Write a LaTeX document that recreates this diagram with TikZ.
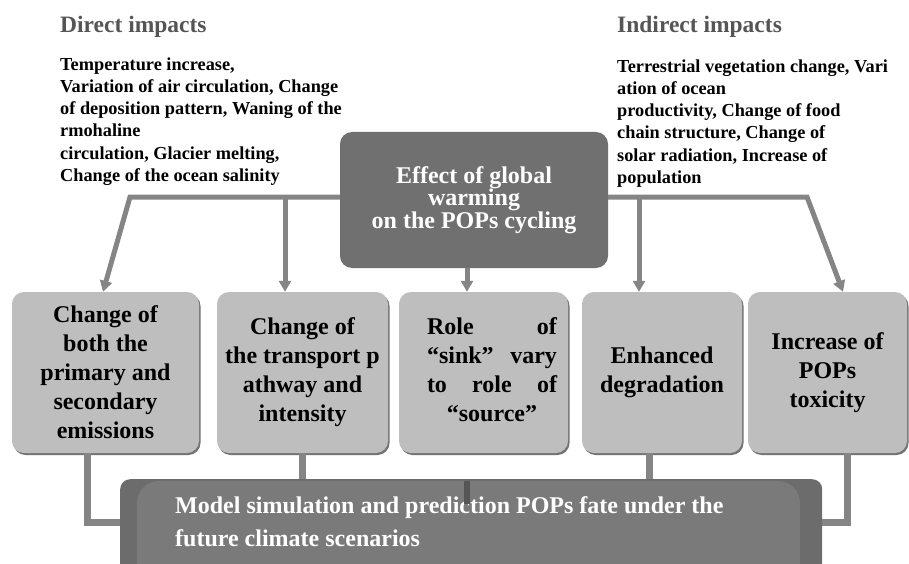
\documentclass[tikz,border=0pt]{standalone}
\usepackage{fontspec}
\setmainfont{Liberation Serif}
\usetikzlibrary{arrows.meta,shadows}
\definecolor{lightbox}{HTML}{BEBEBE}
\definecolor{darkbox}{HTML}{707070}
\definecolor{conn}{HTML}{858585}
\definecolor{headgray}{HTML}{555555}
\definecolor{modelout}{HTML}{6C6C6C}
\definecolor{modelin}{HTML}{7A7A7A}
\definecolor{stubcol}{HTML}{555555}
\newcommand{\jline}[1]{\hbox to 130pt{#1}}
\begin{document}
\begin{tikzpicture}[x=1pt,y=-1pt,
  effbox/.style={rectangle, rounded corners=12pt, fill=lightbox, inner sep=0pt,
    drop shadow={shadow xshift=1.5pt, shadow yshift=-2pt, fill=black!55, opacity=1},
    font=\fontsize{24}{29}\selectfont\bfseries, align=center},
  ctrbox/.style={rectangle, rounded corners=12pt, fill=darkbox, inner sep=0pt, text=white,
    font=\fontsize{24}{22.5}\selectfont\bfseries, align=center},
  head/.style={text=headgray, inner sep=0pt, font=\fontsize{23.5}{28}\selectfont\bfseries},
  body/.style={inner sep=0pt, align=left, font=\fontsize{18.3}{22.2}\selectfont\bfseries},
  conn/.style={draw=conn, line width=5pt, line join=miter},
  arr/.style={conn, -{Triangle[length=11pt,width=12pt]}},
  link/.style={draw=conn, line width=7pt, line join=miter},
  stub/.style={draw=stubcol, line width=6pt}]
\clip (0,0) rectangle (909,564);
% headings and texts
\node[head, anchor=base west] (dh) at (60,33) {Direct impacts};
\node[head, anchor=base west] (ih) at (617,33) {Indirect impacts};
\node[body, anchor=north west] (dt) at (60,57.5) {Temperature increase,\\Variation of air circulation, Change\\of deposition pattern, Waning of the\\rmohaline\\circulation, Glacier melting,\\Change of the ocean salinity};
\node[body, anchor=north west] (it) at (617,59.5) {Terrestrial vegetation change, Vari\\ation of ocean\\productivity, Change of food\\chain structure, Change of\\solar radiation, Increase of\\population};
% center box
\node[ctrbox, minimum width=268pt, minimum height=136pt] (ctr) at (474,200) {Effect of global\\warming\\on the POPs cycling};
% effect boxes
\node[effbox, minimum width=187pt, minimum height=161pt] (b1) at (105.5,372.5) {Change of\\both the\\primary and\\secondary\\emissions};
\node[effbox, minimum width=171pt, minimum height=161pt] (b2) at (302.5,372.5) {Change of\\the transport p\\athway and\\intensity};
\node[effbox, minimum width=169pt, minimum height=161pt] (b3) at (483.5,372.5) {};
\node[inner sep=0pt, align=center, font=\fontsize{24}{29}\selectfont\bfseries] (b3t) at (492,370) {\jline{Role\hfill of}\\\jline{“sink”\hfill vary}\\\jline{to\hfill role\hfill of}\\\jline{\hfill“source”\hfill}};
\node[effbox, minimum width=160pt, minimum height=161pt] (b4) at (662,372.5) {Enhanced\\degradation};
\node[effbox, minimum width=159pt, minimum height=161pt] (b5) at (827.5,372.5) {Increase of\\POPs\\toxicity};
% model box
\node[rectangle, rounded corners=10pt, fill=modelout, inner sep=0pt, minimum width=702pt, minimum height=130pt, anchor=north west] (model) at (120,479) {};
\fill[modelin, rounded corners=22pt] (137,481) rectangle (800,620);
\node[inner sep=0pt, anchor=north west, align=left, text=white, font=\fontsize{24}{33}\selectfont\bfseries] (mt) at (175,496.5) {Model simulation and prediction POPs fate under the\\future climate scenarios};
% top connectors
\coordinate (jl) at (130,197);
\coordinate (jr) at (807,197);
\coordinate (j2) at (285,197);
\coordinate (j4) at (639,197);
\draw[arr] ([yshift=3pt]ctr.west) -- (jl) -- ([xshift=-2.5pt]b1.north);
\draw[arr] (j2) -- (j2 |- b2.north);
\draw[arr] ([xshift=-7pt]ctr.south) -- ([xshift=-7pt]ctr.south |- b3.north);
\draw[arr] ([yshift=3pt]ctr.east) -- (jr) -- ([xshift=15.5pt]b5.north);
\draw[arr] (j4) -- (j4 |- b4.north);
% bottom connectors
\coordinate (k1) at (87,522);
\coordinate (k5) at (847,522);
\draw[link] (k1 |- b1.south) -- (k1) -- (k1 -| model.west);
\draw[link] (b2.south) -- (b2.south |- model.north);
\draw[link] ([xshift=-13pt]b4.south) -- ([xshift=-13pt]b4.south |- model.north);
\draw[link] (k5 |- b5.south) -- (k5) -- (k5 -| model.east);
\draw[stub] ([xshift=-16.5pt,yshift=-28pt]b3.south) -- ++(0,23);
\end{tikzpicture}
\end{document}
